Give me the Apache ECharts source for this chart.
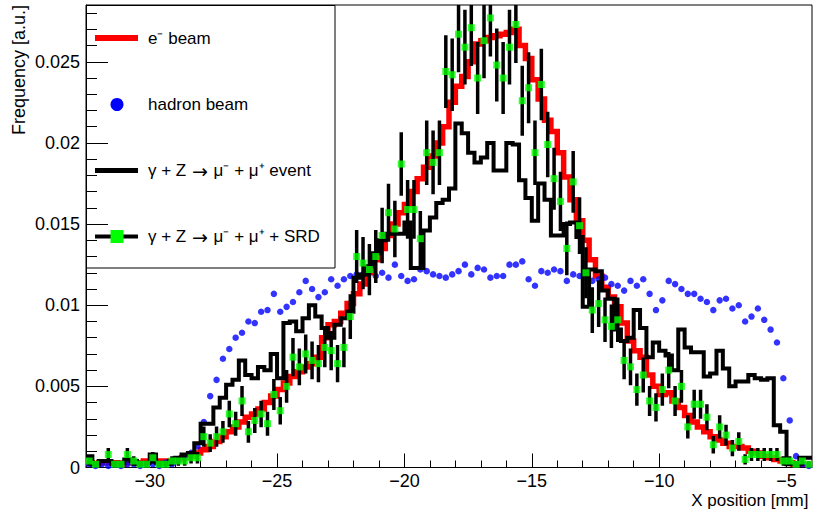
<!DOCTYPE html>
<html>
<head>
<meta charset="utf-8">
<script src="https://cdn.jsdelivr.net/npm/echarts@6/dist/echarts.min.js"></script>
<style>
html,body{margin:0;padding:0;background:#ffffff;}
#chart{width:813px;height:510px;}
</style>
</head>
<body>
<div id="chart"></div>
<script>
// ---------------- data ----------------
const X_MIN = -32.5, X_MAX = -4.0, BIN_WIDTH = 0.25;
const Y_MIN = 0, Y_MAX = 0.0285;

const xMajorTicks = [-30, -25, -20, -15, -10, -5];
const xMinorTicks = [-32, -31, -29, -28, -27, -26, -24, -23, -22, -21, -19, -18, -17, -16, -14, -13, -12, -11, -9, -8, -7, -6];
const yMajorTicks = [0, 0.005, 0.01, 0.015, 0.02, 0.025];
const yMinorTicks = [0.001, 0.002, 0.003, 0.004, 0.006, 0.007, 0.008, 0.009, 0.011, 0.012, 0.013, 0.014, 0.016, 0.017, 0.018, 0.019, 0.021, 0.022, 0.023, 0.024, 0.026, 0.027, 0.028];

const legendLabels = ['e\u207B beam', 'hadron beam', '\u03B3 + Z \u2192 \u03BC\u207B + \u03BC\u207A event', '\u03B3 + Z \u2192 \u03BC\u207B + \u03BC\u207A + SRD'];
// same legend texts, split so the arrow can be drawn in a font with a long arrow glyph
const legendRich = [
  'e\u207B beam',
  'hadron beam',
  '\u03B3 + Z {arr|\u2192} \u03BC\u207B + \u03BC\u207A event',
  '\u03B3 + Z {arr|\u2192} \u03BC\u207B + \u03BC\u207A + SRD'
];
const xTitle = 'X position [mm]';
const yTitle = 'Frequency [a.u.]';

// e- beam (red histogram), 114 bins of 0.25 mm from -32.5 mm
const eBeam = [
0.0003,0.0002,0.0003,0.0003,0.0003,0.0002,0.0003,0.0003,0.0003,0.0004,
0.0004,0.0004,0.0004,0.0004,0.0005,0.0006,0.0007,0.0009,0.0011,0.0013,
0.0016,0.0019,0.0022,0.0025,0.0028,0.0031,0.0033,0.0036,0.0040,0.0044,
0.0048,0.0052,0.0056,0.0059,0.0062,0.0064,0.0068,0.0080,0.0088,0.0090,
0.0095,0.0101,0.0107,0.0113,0.0120,0.0128,0.0135,0.0143,0.0150,0.0157,
0.0162,0.0170,0.0178,0.0185,0.0192,0.0200,0.0210,0.0225,0.0235,0.0241,
0.0250,0.0261,0.0263,0.0265,0.0266,0.0267,0.0268,0.0270,0.0260,0.0252,
0.0239,0.0227,0.0214,0.0207,0.0194,0.0179,0.0165,0.0152,0.0140,0.0128,
0.0118,0.0111,0.0105,0.0099,0.0089,0.0078,0.0072,0.0068,0.0057,0.0050,
0.0045,0.0046,0.0041,0.0037,0.0032,0.0028,0.0025,0.0022,0.0019,0.0017,
0.0015,0.0013,0.0013,0.0012,0.0010,0.0009,0.0007,0.0006,0.0005,0.0004,
0.0003,0.0002,0.0002,0.0002
];

// hadron beam (blue points)
const hadronBeam = [
0.0002,0.0001,0.0002,0.0001,0.0002,0.0001,0.0002,0.0002,0.0001,0.0002,
0.0002,0.0001,0.0003,0.0002,0.0004,0.0006,0.0009,0.0013,0.0028,0.0044,
0.0054,0.0067,0.0073,0.0080,0.0083,0.0090,0.0089,0.0096,0.0097,0.0107,
0.0096,0.0099,0.0102,0.0108,0.0115,0.0110,0.0105,0.0108,0.0116,0.0112,
0.0116,0.0118,0.0119,0.0119,0.0121,0.0118,0.0120,0.0117,0.0125,0.0118,
0.0115,0.0116,0.0122,0.0121,0.0119,0.0118,0.0117,0.0119,0.0121,0.0125,
0.0119,0.0123,0.0122,0.0117,0.0118,0.0118,0.0125,0.0125,0.0127,0.0116,
0.0112,0.0121,0.0120,0.0122,0.0121,0.0115,0.0119,0.0118,0.0120,0.0115,
0.0116,0.0117,0.0113,0.0112,0.0109,0.0115,0.0112,0.0116,0.0107,0.0097,
0.0103,0.0115,0.0113,0.0110,0.0107,0.0107,0.0104,0.0102,0.0097,0.0103,
0.0104,0.0098,0.0100,0.0090,0.0093,0.0098,0.0091,0.0085,0.0077,0.0055,
0.0029,0.0007,0.0002,0.0001
];

// gamma + Z -> mu- mu+ event (black histogram)
const muonEvent = [
0.0007,0.0002,0.0004,0.0004,0.0002,0.0003,0.0005,0.0004,0.0002,0.0003,
0.0008,0.0003,0.0002,0.0004,0.0006,0.0008,0.0009,0.0015,0.0027,0.0027,
0.0037,0.0043,0.0051,0.0054,0.0066,0.0057,0.0055,0.0062,0.0060,0.0070,
0.0055,0.0089,0.0090,0.0084,0.0092,0.0100,0.0093,0.0086,0.0080,0.0088,
0.0092,0.0096,0.0117,0.0119,0.0124,0.0132,0.0140,0.0144,0.0144,0.0144,
0.0151,0.0123,0.0123,0.0146,0.0154,0.0163,0.0165,0.0172,0.0212,0.0206,
0.0194,0.0188,0.0191,0.0200,0.0183,0.0183,0.0200,0.0199,0.0177,0.0166,
0.0152,0.0175,0.0165,0.0143,0.0143,0.0150,0.0151,0.0142,0.0099,0.0122,
0.0121,0.0109,0.0104,0.0085,0.0078,0.0080,0.0097,0.0086,0.0068,0.0077,
0.0072,0.0069,0.0060,0.0085,0.0074,0.0071,0.0071,0.0056,0.0058,0.0072,
0.0061,0.0050,0.0053,0.0053,0.0057,0.0055,0.0054,0.0055,0.0026,0.0022,
0.0002,0.0002,0.0006,0.0006
];

// gamma + Z -> mu- mu+ + SRD (green points with error bars)
const muonSRD = [
0.0004,0.0002,0,0.0008,0.0002,0.0002,0.0008,0.0004,0.0002,0.0002,
0.0006,0.0002,0.0002,0.0004,0.0004,0.0004,0.0006,0.0006,0.0019,0.0015,
0.0019,0.0022,0.0033,0.0027,0.0041,0.0022,0.0029,0.0033,0.0027,0.0045,
0.0035,0.0050,0.0068,0.0062,0.0070,0.0066,0.0064,0.0074,0.0072,0.0064,
0.0074,0.0093,0.0130,0.0126,0.0122,0.0130,0.0143,0.0157,0.0147,0.0187,
0.0159,0.0159,0.0141,0.0194,0.0188,0.0194,0.0244,0.0242,0.0267,0.0259,
0.0271,0.0240,0.0263,0.0277,0.0248,0.0240,0.0259,0.0273,0.0226,0.0234,
0.0194,0.0236,0.0199,0.0178,0.0164,0.0135,0.0176,0.0149,0.0120,0.0097,
0.0101,0.0091,0.0087,0.0091,0.0066,0.0062,0.0048,0.0057,0.0041,0.0037,
0.0048,0.0060,0.0041,0.0050,0.0025,0.0039,0.0039,0.0031,0.0014,0.0025,
0.0020,0.0012,0.0016,0.0005,0.0008,0.0008,0.0008,0.0008,0.0008,0.0004,
0.0004,0.0002,0.0004,0.0002
];
const muonSRDErr = [
0.00029,0.0002,0,0.0004,0.0002,0.0002,0.0004,0.00029,0.0002,0.0002,
0.00035,0.0002,0.0002,0.00029,0.00029,0.00029,0.00035,0.00035,0.00062,0.00055,
0.00062,0.00067,0.00082,0.00074,0.00092,0.00067,0.00077,0.00082,0.00074,0.00096,
0.00085,0.00101,0.00118,0.00113,0.0012,0.00116,0.00115,0.00123,0.00121,0.00115,
0.00123,0.00138,0.00163,0.00161,0.00158,0.00163,0.00171,0.00179,0.00174,0.00196,
0.00181,0.00181,0.0017,0.00199,0.00196,0.00199,0.00224,0.00223,0.00234,0.0023,
0.00236,0.00222,0.00232,0.00238,0.00225,0.00222,0.0023,0.00237,0.00215,0.00219,
0.00199,0.0022,0.00202,0.00191,0.00183,0.00166,0.0019,0.00175,0.00157,0.00141,
0.00144,0.00137,0.00134,0.00137,0.00116,0.00113,0.00099,0.00108,0.00092,0.00087,
0.00099,0.00111,0.00092,0.00101,0.00072,0.00089,0.00089,0.0008,0.00054,0.00072,
0.00064,0.0005,0.00057,0.00032,0.0004,0.0004,0.0004,0.0004,0.0004,0.00029,
0.00029,0.0002,0.00029,0.0002
];

// ---------------- build ----------------
const FONT = "'Liberation Sans', Arial, Helvetica, sans-serif";
const binLow = i => X_MIN + i * BIN_WIDTH;
const binCenter = i => X_MIN + (i + 0.5) * BIN_WIDTH;

function stepData(arr) {
  const d = arr.map((v, i) => [binLow(i), v]);
  d.push([X_MAX, arr[arr.length - 1]]);
  return d;
}
const hadronData = hadronBeam.map((v, i) => [binCenter(i), v]);
const srdData = [];
muonSRD.forEach((v, i) => { if (v > 0) srdData.push([binCenter(i), v, muonSRDErr[i]]); });

const chart = echarts.init(document.getElementById('chart'), null, {renderer: 'svg'});

const axisLineStyle = {color: '#000', width: 1};
const legendTextStyle = (txt) => ({
  text: txt, font: '17px ' + FONT, fill: '#000', verticalAlign: 'middle', align: 'left',
  rich: {arr: {fontFamily: "'DejaVu Sans', sans-serif", fontSize: 19, fill: '#000', padding: [0, 1, 0, 1]}}
});
const option = {
  animation: false,
  backgroundColor: '#ffffff',
  grid: {left: 86, right: 1, top: 5, bottom: 42.5, show: true, borderColor: '#000', borderWidth: 1,
         backgroundColor: 'transparent', containLabel: false, outerBoundsMode: 'none'},
  xAxis: [
    {type: 'value', min: X_MIN, max: X_MAX, position: 'bottom',
     axisLine: {show: true, onZero: false, lineStyle: axisLineStyle},
     axisTick: {show: true, inside: true, length: 14, customValues: xMajorTicks, lineStyle: axisLineStyle},
     axisLabel: {show: true, customValues: xMajorTicks, color: '#000', fontSize: 18, lineHeight: 18, fontFamily: FONT, margin: 4,
                 formatter: v => (v < 0 ? '\u2212' + Math.abs(v) : String(v))},
     splitLine: {show: false},
     name: xTitle, nameLocation: 'end', nameGap: -120.7, nameMoveOverlap: false,
     nameTextStyle: {align: 'left', verticalAlign: 'top', padding: [24.5, 0, 0, 0], fontSize: 17, lineHeight: 17, fontFamily: FONT, color: '#000'}},
    {type: 'value', min: X_MIN, max: X_MAX, position: 'bottom',
     axisLine: {show: false, onZero: false},
     axisTick: {show: true, inside: true, length: 7, customValues: xMinorTicks, lineStyle: axisLineStyle},
     axisLabel: {show: false}, splitLine: {show: false}}
  ],
  yAxis: [
    {type: 'value', min: Y_MIN, max: Y_MAX, position: 'left',
     axisLine: {show: true, onZero: false, lineStyle: axisLineStyle},
     axisTick: {show: true, inside: true, length: 22, customValues: yMajorTicks, lineStyle: axisLineStyle},
     axisLabel: {show: true, customValues: yMajorTicks, color: '#000', fontSize: 18, fontFamily: FONT, margin: 6,
                 formatter: v => String(v)},
     splitLine: {show: false},
     name: yTitle, nameLocation: 'end', nameRotate: 90, nameGap: 0, nameMoveOverlap: false,
     nameTextStyle: {align: 'right', verticalAlign: 'bottom', padding: [0, 0, 58, 0], fontSize: 18, fontFamily: FONT, color: '#000'}},
    {type: 'value', min: Y_MIN, max: Y_MAX, position: 'left',
     axisLine: {show: false, onZero: false},
     axisTick: {show: true, inside: true, length: 11, customValues: yMinorTicks, lineStyle: axisLineStyle},
     axisLabel: {show: false}, splitLine: {show: false}}
  ],
  series: [
    {name: legendLabels[0], type: 'line', step: 'end', data: stepData(eBeam), symbol: 'none',
     lineStyle: {color: '#ff0000', width: 5.5, join: 'miter', cap: 'butt'}, z: 2, clip: true},
    {name: legendLabels[1], type: 'scatter', data: hadronData, symbol: 'circle', symbolSize: 6.5,
     itemStyle: {color: '#0000ff'}, z: 3, clip: true},
    {name: legendLabels[2], type: 'line', step: 'end', data: stepData(muonEvent), symbol: 'none',
     lineStyle: {color: '#000000', width: 4, join: 'miter', cap: 'butt'}, z: 4, clip: true},
    {name: legendLabels[3] + ' (errors)', type: 'custom', data: srdData, z: 5, clip: true,
     encode: {x: 0, y: 1},
     renderItem: function (params, api) {
       const x = api.value(0), y = api.value(1), e = api.value(2);
       const p1 = api.coord([x, y - e]);
       const p2 = api.coord([x, y + e]);
       return {type: 'line', shape: {x1: p1[0], y1: p1[1], x2: p2[0], y2: p2[1]},
               style: {stroke: '#000000', lineWidth: 3.5}};
     }},
    {name: legendLabels[3], type: 'scatter', data: srdData.map(d => [d[0], d[1]]), symbol: 'rect', symbolSize: 7,
     itemStyle: {color: '#00ff00'}, z: 6, clip: true}
  ],
  graphic: [
    {type: 'group', z: 100, children: [
      {type: 'rect', shape: {x: 86.5, y: 5.5, width: 248.5, height: 262.5}, style: {fill: '#ffffff', stroke: '#000000', lineWidth: 1}},
      {type: 'line', shape: {x1: 95, y1: 38, x2: 138, y2: 38}, style: {stroke: '#ff0000', lineWidth: 6}},
      {type: 'text', x: 148, y: 38, style: legendTextStyle(legendRich[0])},
      {type: 'circle', shape: {cx: 117, cy: 104.5, r: 6.5}, style: {fill: '#0000ff'}},
      {type: 'text', x: 148, y: 104.5, style: legendTextStyle(legendRich[1])},
      {type: 'line', shape: {x1: 95, y1: 170.5, x2: 138, y2: 170.5}, style: {stroke: '#000000', lineWidth: 5}},
      {type: 'text', x: 148, y: 170.5, style: legendTextStyle(legendRich[2])},
      {type: 'line', shape: {x1: 95, y1: 236.5, x2: 138, y2: 236.5}, style: {stroke: '#000000', lineWidth: 4}},
      {type: 'rect', shape: {x: 110.5, y: 230, width: 13, height: 13}, style: {fill: '#00ff00'}},
      {type: 'text', x: 148, y: 236.5, style: legendTextStyle(legendRich[3])}
    ]}
  ]
};
chart.setOption(option);
</script>
</body>
</html>
